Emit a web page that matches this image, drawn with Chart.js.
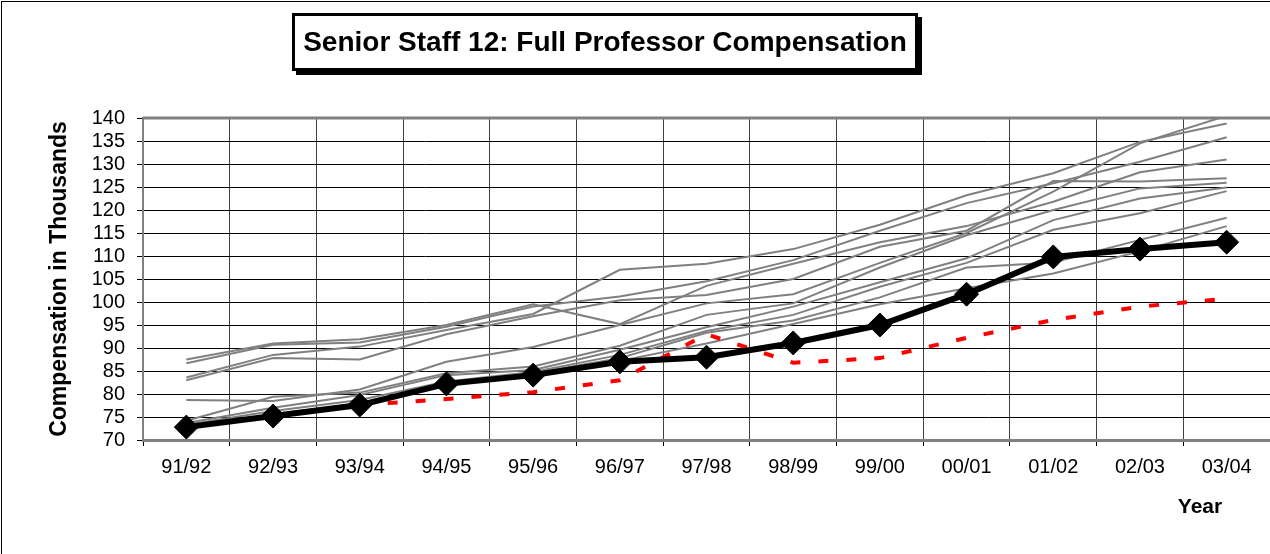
<!DOCTYPE html>
<html>
<head>
<meta charset="utf-8">
<script src="https://cdn.jsdelivr.net/npm/chart.js@4"></script>
<style>
  html, body { margin: 0; padding: 0; background: #fff; overflow: hidden; }
  #wrap { position: relative; width: 1270px; height: 554px; overflow: hidden; font-family: "Liberation Sans", Arial, sans-serif; }
  #frame { position: absolute; left: 1px; top: 1px; width: 1400px; height: 700px; border: 1px solid #000; box-sizing: border-box; }
  #titleBox { position: absolute; left: 292px; top: 13px; width: 620px; height: 52px; border: 3px solid #000; box-shadow: 4px 4px 0 #000; background: #fff;
    font-weight: bold; font-size: 28px; line-height: 52px; text-align: center; color: #000; white-space: nowrap; }
  #yearLbl { position: absolute; left: 1160px; top: 494px; width: 80px; text-align: center; font-weight: bold; font-size: 21px; color: #000; }
  canvas { position: absolute; left: 0; top: 0; }
</style>
</head>
<body>
<div id="wrap">
  <div id="frame"></div>
  <canvas id="c" width="1283" height="554"></canvas>
  <div id="titleBox">Senior Staff 12: Full Professor Compensation</div>
  <div id="yearLbl">Year</div>
</div>
<script>
const categories = ["91/92","92/93","93/94","94/95","95/96","96/97","97/98","98/99","99/00","00/01","01/02","02/03","03/04"];
const yTicks = [70,75,80,85,90,95,100,105,110,115,120,125,130,135,140];

const seniorStaff12 = [72.8, 75.2, 77.6, 82.2, 84.1, 87.0, 88.0, 91.1, 95.0, 101.7, 109.8, 111.5, 113.0];
const redSeries = [null, null, 77.6, 78.9, 80.4, 83.0, 93.0, 86.8, 87.8, 92.2, 96.1, 99.0, 100.7];

const gray1  = [83.6, 88.5, 90.3, 93.9, 97.4, 107.0, 108.3, 111.5, 116.8, 123.2, 128.0, 134.8, 138.8];
const gray2  = [86.7, 90.7, 91.2, 94.6, 99.0, 101.2, 104.5, 109.1, 115.5, 121.5, 125.8, 130.5, 135.8];
const gray3  = [87.5, 91.0, 91.9, 95.0, 99.5, 95.2, 103.5, 108.3, 113.0, 116.5, 121.8, 128.2, 131.0];
const gray4  = [83.0, 87.8, 87.5, 93.0, 96.9, 100.4, 101.5, 105.0, 112.0, 115.5, 126.3, 126.2, 126.9];
const gray5  = [78.7, 78.5, 81.0, 87.0, 90.2, 95.0, 99.7, 101.7, 108.5, 115.0, 124.0, 134.5, 140.5];
const gray6  = [74.2, 79.4, 80.3, 84.5, 86.0, 90.5, 97.2, 99.7, 107.5, 114.5, 120.0, 124.7, 125.9];
const gray7  = [73.7, 77.0, 79.8, 84.1, 85.2, 89.6, 94.5, 99.0, 104.3, 109.5, 117.8, 122.5, 124.9];
const gray8  = [73.3, 76.3, 78.7, 82.7, 84.8, 88.5, 93.7, 97.2, 103.3, 108.5, 115.7, 119.3, 124.1];
const gray9  = [73.0, 75.5, 78.0, 82.3, 84.5, 87.8, 93.3, 96.0, 101.0, 107.5, 108.6, 113.5, 118.3];
const gray10 = [72.8, 75.2, 77.8, 82.0, 84.3, 87.2, 91.0, 95.2, 99.5, 103.0, 106.2, 111.0, 116.5];
const grayGroup = [gray1, gray2, gray3, gray4, gray5, gray6, gray7, gray8, gray9, gray10];

const FONT = "'Liberation Sans', Arial, sans-serif";

const datasets = [
  {
    label: "Senior Staff 12",
    data: seniorStaff12,
    borderColor: "#000",
    backgroundColor: "#000",
    borderWidth: 6,
    pointStyle: "rectRot",
    pointRadius: 12,
    pointBackgroundColor: "#000",
    pointBorderColor: "#000",
    pointBorderWidth: 1,
    tension: 0,
    order: 0
  },
  {
    label: "Reference",
    data: redSeries,
    borderColor: "#FF0000",
    borderWidth: 4,
    borderDash: [10, 18],
    pointRadius: 0,
    tension: 0,
    spanGaps: false,
    order: 1
  }
];
grayGroup.forEach((arr, i) => {
  datasets.push({
    label: "Peer " + (i + 1),
    data: arr,
    borderColor: "#808080",
    borderWidth: 2,
    pointRadius: 0,
    tension: 0,
    order: 2
  });
});

const plotBorder = {
  id: "plotBorder",
  beforeDatasetsDraw(chart) {
    const a = chart.chartArea, ctx = chart.ctx;
    ctx.save();
    ctx.strokeStyle = "#808080";
    ctx.lineWidth = 3;
    ctx.beginPath();
    ctx.moveTo(a.left, a.top);
    ctx.lineTo(a.right + 2, a.top);
    ctx.stroke();
    ctx.restore();
  }
};

new Chart(document.getElementById("c"), {
  type: "line",
  data: { labels: categories, datasets: datasets },
  options: {
    responsive: false,
    animation: false,
    devicePixelRatio: 1,
    layout: { padding: { top: 118, left: 0, right: 0, bottom: 0 } },
    plugins: { legend: { display: false }, tooltip: { enabled: false }, title: { display: false } },
    scales: {
      x: {
        type: "category",
        offset: true,
        grid: { offset: true, color: "#404040", lineWidth: 1, tickLength: 6, tickColor: "#000", drawTicks: true },
        border: { color: "#808080", width: 3 },
        ticks: { color: "#000", font: { family: FONT, size: 20 }, padding: 9, maxRotation: 0, autoSkip: false },
        afterFit(s) { s.height = 114; }
      },
      y: {
        min: 70,
        max: 140,
        afterBuildTicks(s) { s.ticks = yTicks.map(v => ({ value: v })); },
        grid: { color: "#000", lineWidth: 1, tickLength: 6, tickColor: "#000" },
        border: { color: "#808080", width: 2 },
        ticks: { color: "#000", font: { family: FONT, size: 20 }, padding: 12, autoSkip: false },
        title: { display: true, text: "Compensation in Thousands", color: "#000",
                 font: { family: FONT, size: 23, weight: "bold" }, padding: { top: 46, bottom: 0 } },
        afterFit(s) { s.width = 143; }
      }
    }
  },
  plugins: [plotBorder]
});
</script>
</body>
</html>
